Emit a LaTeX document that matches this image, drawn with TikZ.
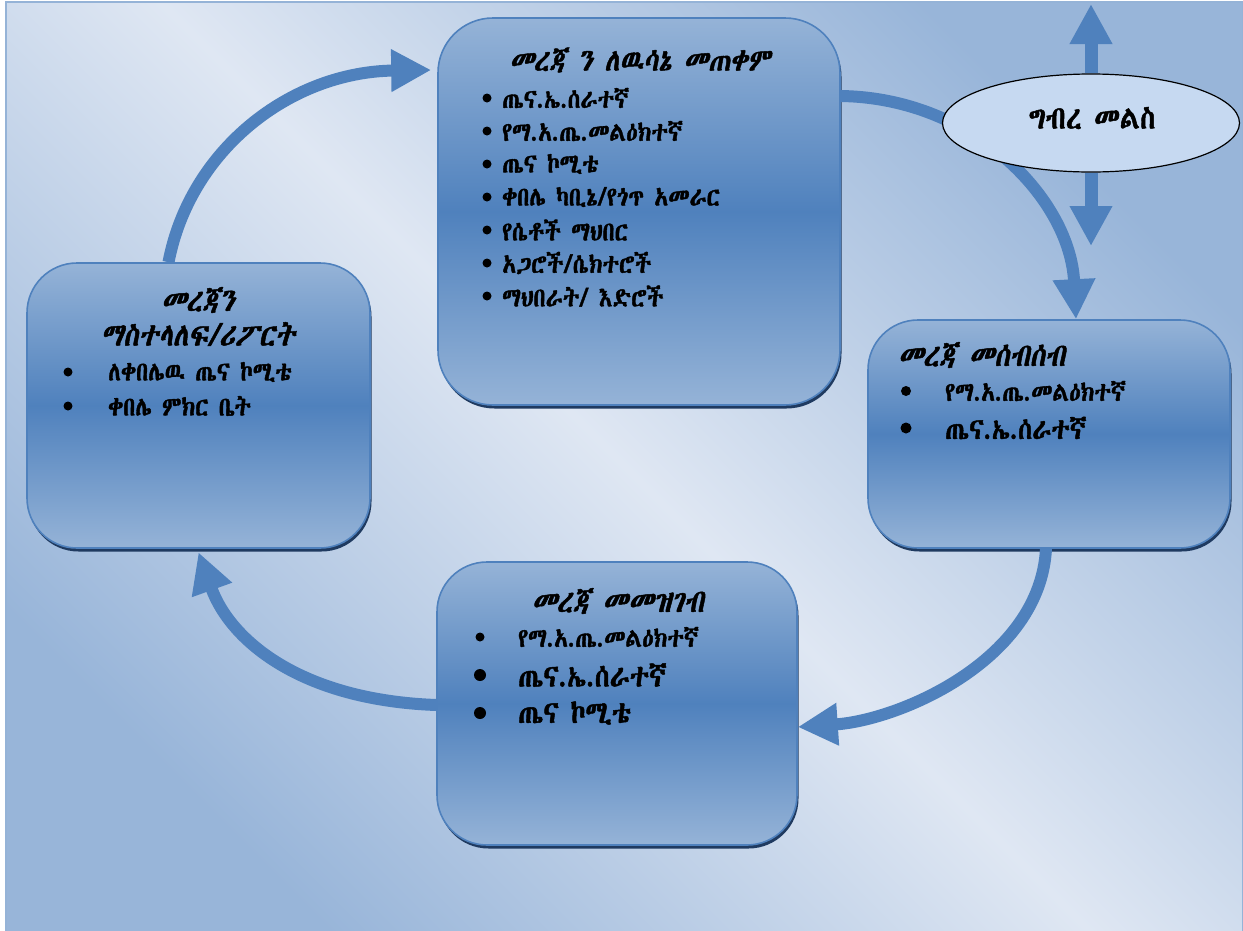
\documentclass[tikz,border=0pt]{standalone}
\usepackage{fontspec}
\usetikzlibrary{arrows.meta,shapes.geometric,shadows,calc}
% Ethiopic face: first installed candidate, emboldened and narrowed
\IfFontExistsTF{Abyssinica SIL}{%
  \newfontfamily\eth{Abyssinica SIL}[FakeBold=1.5,FakeStretch=0.86]%
  \newfontfamily\ethsl{Abyssinica SIL}[FakeBold=1.5,FakeSlant=0.18,FakeStretch=0.86]%
}{%
  \IfFontExistsTF{FreeSerif.otf}{%
    \newfontfamily\eth{FreeSerif.otf}[FakeBold=1.5,FakeStretch=0.86]%
    \newfontfamily\ethsl{FreeSerif.otf}[FakeBold=1.5,FakeSlant=0.18,FakeStretch=0.86]%
  }{%
    \newfontfamily\eth{FreeSerif}[FakeBold=1.5,FakeStretch=0.86]%
    \newfontfamily\ethsl{FreeSerif}[FakeBold=1.5,FakeSlant=0.18,FakeStretch=0.86]%
  }%
}
\definecolor{flowblue}{HTML}{4F81BD}
\definecolor{paleblue}{HTML}{95B3D7}
\definecolor{bglight}{HTML}{DFE7F3}
\definecolor{bgdark}{HTML}{98B5D9}
\definecolor{shadownavy}{HTML}{1F3A60}
\definecolor{ovalfill}{HTML}{C6D9F1}
\begin{document}
\begin{tikzpicture}[x=1pt,y=-1pt,
  stagebox/.style={rectangle, rounded corners=55pt, draw=flowblue, line width=1.6pt,
    top color=paleblue, bottom color=paleblue, middle color=flowblue,
    inner sep=0pt,
    drop shadow={shadow xshift=1.5pt, shadow yshift=-3.5pt, fill=shadownavy, opacity=1}},
  flow/.style={draw=flowblue, line width=12pt, -{Triangle[width=40pt,length=40pt]}},
  vflow/.style={draw=flowblue, line width=13pt, -{Triangle[width=40pt,length=40pt]}},
  headtxt/.style={font=\ethsl\fontsize{32}{34}\selectfont, inner sep=0pt},
  itemtxt/.style={font=\eth\fontsize{26.5}{28}\selectfont, inner sep=0pt, anchor=west},
  bigitem/.style={itemtxt, font=\eth\fontsize{31}{33}\selectfont},
  dot/.style={fill=black}]
\useasboundingbox (0,0) rectangle (1243,930);
\fill[white] (0,0) rectangle (1243,930);
\shade[shading=axis, top color=bgdark, bottom color=bgdark, middle color=bglight,
  shading angle=-45] (6,2) rectangle (1243,930);
\draw[paleblue, line width=2.5pt] (6,2) rectangle (1243,932);

% stages of the cycle
\node[stagebox, minimum width=402pt, minimum height=387pt] (tbox) at (639,211.5) {};
\node[stagebox, rounded corners=50pt, minimum width=343pt, minimum height=285pt] (lbox) at (198.5,405.5) {};
\node[stagebox, rounded corners=50pt, minimum width=362pt, minimum height=228pt] (rbox) at (1049,434) {};
\node[stagebox, rounded corners=50pt, minimum width=360pt, minimum height=283pt] (bbox) at (617,703.5) {};

% cycle arrows
\draw[flow] ([xshift=-30pt]lbox.north) .. controls (190,150) and (290,72) .. ([shift={(-6pt,141.5pt)}]tbox.west);
\draw[flow] ([yshift=115.5pt]tbox.east) .. controls (975,98) and (1070,200) .. ([xshift=27pt]rbox.north);
\draw[flow] ([xshift=-3pt]rbox.south) .. controls (1040,660) and (900,720) .. ([yshift=-23.5pt]bbox.east);
\draw[flow] ([yshift=-1.5pt]bbox.west) .. controls (300,700) and (230,640) .. ([yshift=-3.5pt]lbox.south);

% feedback
\node[ellipse, draw=black, line width=1.2pt, fill=ovalfill, minimum width=297pt, minimum height=98pt, inner sep=0pt] (fb) at (1091,123) {};
\coordinate (fbup) at (1091,4);
\coordinate (fbdown) at (1091,246);
\draw[vflow] (fb.north) -- (fbup);
\draw[vflow] (fb.south) -- (fbdown);
\node[headtxt, font=\eth\fontsize{32}{34}\selectfont] (fbt) at (1092,118) {ግብረ መልስ};

% top stage
\node[headtxt, font=\ethsl\fontsize{31}{33}\selectfont] (tt) at (640,60) {መረጃ ን ለዉሳኔ መጠቀም};
\foreach \t [count=\i] in {ጤና.ኤ.ሰራተኛ, የማ.አ.ጤ.መልዕክተኛ, ጤና ኮሚቴ, ቀበሌ ካቢኔ/የጎጥ አመራር, የሴቶች ማህበር, አጋሮች/ሴክተሮች, ማህበራት/ እድሮች}{
  \fill[dot] (487,{98+33*(\i-1)}) circle (4.5);
  \node[itemtxt] (t\i) at (502,{98+33*(\i-1)}) {\t};
}

% left stage
\node[headtxt] (lt1) at (198,300) {መረጃን};
\node[headtxt] (lt2) at (198,334) {ማስተላለፍ/ሪፖርት};
\foreach \t [count=\i] in {ለቀበሌዉ ጤና ኮሚቴ, ቀበሌ ምክር ቤት}{
  \fill[dot] (68,{372+34*(\i-1)}) circle (4.5);
  \node[itemtxt] (l\i) at (108,{372+34*(\i-1)}) {\t};
}

% right stage
\node[headtxt, anchor=west] (rt) at (898,355) {መረጃ መሰብሰብ};
\fill[dot] (906,391) circle (5);
\node[itemtxt] (r1) at (945,391) {የማ.አ.ጤ.መልዕክተኛ};
\fill[dot] (906,428) circle (5.5);
\node[itemtxt, font=\eth\fontsize{29.5}{31}\selectfont] (r2) at (945,428) {ጤና.ኤ.ሰራተኛ};

% bottom stage
\node[headtxt] (bt) at (618,601) {መረጃ መመዝገብ};
\fill[dot] (480,637) circle (4.5);
\node[itemtxt] (b1) at (518,637) {የማ.አ.ጤ.መልዕክተኛ};
\fill[dot] (480,675) circle (6);
\node[bigitem] (b2) at (518,675) {ጤና.ኤ.ሰራተኛ};
\fill[dot] (480,713) circle (6);
\node[bigitem] (b3) at (518,713) {ጤና ኮሚቴ};
\end{tikzpicture}
\end{document}
